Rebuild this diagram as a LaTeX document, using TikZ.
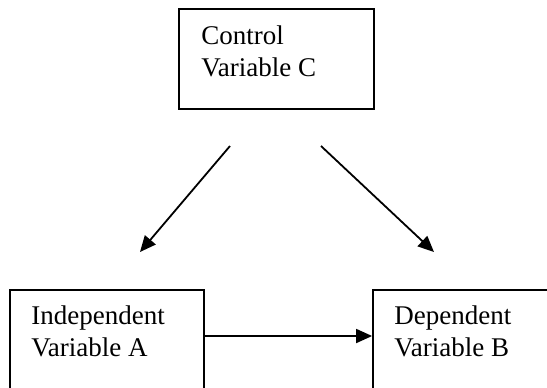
\documentclass[tikz,border=0pt]{standalone}
\usepackage{fontspec}
\setmainfont{Liberation Serif}
\usetikzlibrary{arrows.meta}

\tikzset{
    varbox/.style={rectangle, draw, line width=0.9pt, inner sep=0pt},
    vartext/.style={anchor=base west, align=left, inner sep=0pt,
        font=\fontsize{13.5}{16}\selectfont},
    causal/.style={line width=0.9pt, -{Triangle[length=8pt,width=7pt]}}
}

\begin{document}
\begin{tikzpicture}[x=0.5pt, y=-0.5pt]
    \useasboundingbox (0,0) rectangle (547,387);
    \clip (0,0) rectangle (547,387);

    % boxes
    \node[varbox, minimum width=97.5pt, minimum height=50pt] (ctrl) at (276.5,59) {};
    \node[varbox, minimum width=97pt, minimum height=60pt] (indep) at (107,350) {};
    \node[varbox, minimum width=93.5pt, minimum height=60pt] (dep) at (466.5,350) {};

    % labels (base = last line)
    \node[vartext] (ctrltext) at (201,76) {Control\\Variable C};
    \node[vartext] (indeptext) at (31,356) {Independent\\Variable A};
    \node[vartext] (deptext) at (394,356) {Dependent\\Variable B};

    % free arrow ends
    \coordinate (ctrlleft) at (230,146);
    \coordinate (ctrlright) at (321,146);
    \coordinate (indeptip) at (140,252);
    \coordinate (deptip) at (434,252);

    \draw[causal] (ctrlleft) -- (indeptip);
    \draw[causal] (ctrlright) -- (deptip);
    \draw[causal] ([yshift=7pt]indep.east) -- ([yshift=7pt]dep.west);
\end{tikzpicture}
\end{document}
